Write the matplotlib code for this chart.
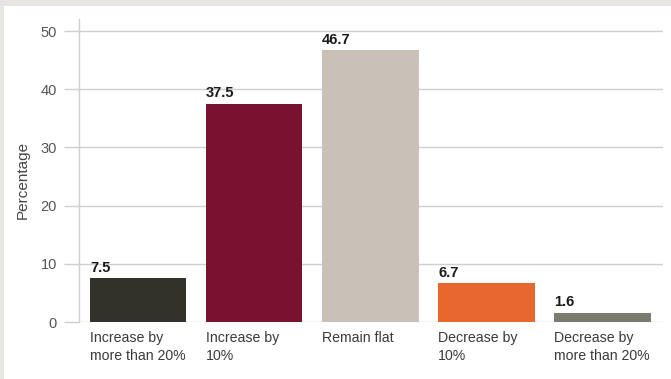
import matplotlib.pyplot as plt
import matplotlib.patches as pt
import matplotlib.transforms as mtr

plt.rcParams['font.family'] = ['Liberation Sans', 'DejaVu Sans']

categories = ['Increase by\nmore than 20%', 'Increase by\n10%', 'Remain flat',
              'Decrease by\n10%', 'Decrease by\nmore than 20%']
values = [7.5, 37.5, 46.7, 6.7, 1.6]
colors = ['#33322a', '#78122e', '#c9c0b7', '#e8672f', '#7a7b6c']
yticks = [0, 10, 20, 30, 40, 50]

fig = plt.figure(figsize=(6.71, 3.79), dpi=100)
fig.patch.set_facecolor('white')

# grey frame along the top and left edges
fig.patches.append(pt.Rectangle((0, 1 - 6 / 379), 1, 6 / 379, transform=fig.transFigure,
                                fc='#e8e6e3', ec='none', zorder=0))
fig.patches.append(pt.Rectangle((0, 0), 4 / 671, 1, transform=fig.transFigure,
                                fc='#e8e6e3', ec='none', zorder=0))

ax = fig.add_axes([79 / 671, 57 / 379, 584 / 671, 302.6 / 379])
w = 0.83
x = list(range(len(values)))
bars = ax.bar(x, values, width=w, color=colors, zorder=3)

ax.set_xlim(-0.51, len(values) - 1 + 0.52)
ax.set_ylim(0, 52)
ax.set_yticks(yticks)
ax.set_xticks([])
ax.yaxis.grid(True, color='#cfcfcf', linewidth=1.0, zorder=0)
ax.tick_params(axis='y', length=11, width=1.0, color='#cfcfcf', pad=5,
               labelsize=10.5, labelcolor='#555555')

for s in ['top', 'right', 'bottom']:
    ax.spines[s].set_visible(False)
ax.spines['left'].set_color('#cfcfcf')
ax.spines['left'].set_linewidth(1.0)

for b, v in zip(bars, values):
    ax.annotate(f'{v:.1f}', (b.get_x(), v), xytext=(0, 2.5), textcoords='offset points',
                ha='left', va='bottom', fontsize=10.5, fontweight='bold', color='#1a1a1a')

trans = mtr.blended_transform_factory(ax.transData, ax.transAxes)
for i, c in enumerate(categories):
    ax.text(i - w / 2, -0.031, c, transform=trans, ha='left', va='top',
            fontsize=10.2, color='#3a3a3a', linespacing=1.3)

fig.text(23 / 671, 1 - 180 / 379, 'Percentage', rotation=90, ha='center', va='center',
         fontsize=11, color='#444444')

fig.savefig('out.png', dpi=100)
